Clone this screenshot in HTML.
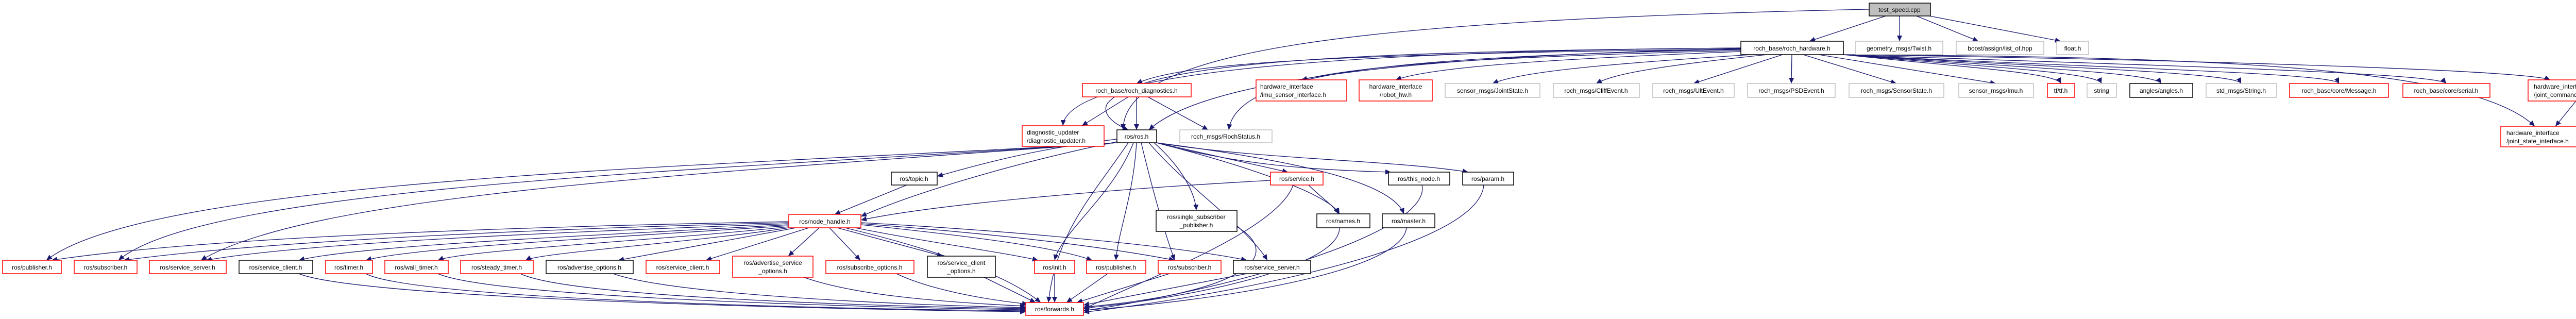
<!DOCTYPE html>
<html><head><meta charset="utf-8"><style>
html,body{margin:0;padding:0;background:#fff;}
svg{display:block;}
text{font-family:"Liberation Sans",sans-serif;font-size:12px;fill:#000;text-anchor:middle;}
.e{fill:none;stroke:#191970;stroke-width:1.3;marker-end:url(#a);}
.r{fill:#fff;stroke:#ff0000;stroke-width:1.5;}
.k{fill:#fff;stroke:#000;stroke-width:1.5;}
.g{fill:#fff;stroke:#bfbfbf;stroke-width:1.5;}
</style></head><body>
<svg width="5113" height="619" viewBox="0 0 5113 619" xmlns="http://www.w3.org/2000/svg">
<defs><marker id="a" markerUnits="userSpaceOnUse" markerWidth="12" markerHeight="10" refX="11" refY="5" orient="auto"><path d="M0,0 L11,5 L0,10 Z" fill="#191970"/></marker></defs>
<g>
<path class="e" d="M3660,31 L3512,80"/>
<path class="e" d="M3687,31 L3687,80"/>
<path class="e" d="M3720,31 L3840,80"/>
<path class="e" d="M3745,31 L4000,80"/>
<path class="e" d="M3628,18 C2600,40 2180,100 2180,252"/>
<path class="e" d="M3379,95 C2600,105 2300,120 2206,162"/>
<path class="e" d="M3379,98 C2900,110 2650,125 2526,155"/>
<path class="e" d="M3379,100 C3000,115 2780,130 2709,155"/>
<path class="e" d="M3400,106 C3100,125 2950,140 2897,162"/>
<path class="e" d="M3430,106 C3200,130 3130,145 3098,162"/>
<path class="e" d="M3460,106 L3287,162"/>
<path class="e" d="M3478,106 L3477,162"/>
<path class="e" d="M3500,106 L3681,162"/>
<path class="e" d="M3530,106 L3874,162"/>
<path class="e" d="M3578,106 C3800,130 3990,140 4000,162"/>
<path class="e" d="M3578,106 C3850,130 4070,140 4079,162"/>
<path class="e" d="M3578,106 C3900,130 4180,140 4195,162"/>
<path class="e" d="M3578,106 C3950,130 4340,140 4350,162"/>
<path class="e" d="M3578,106 C4000,130 4530,140 4540,162"/>
<path class="e" d="M3578,106 C4100,125 4730,140 4748,162"/>
<path class="e" d="M3578,106 C4200,115 4900,135 4950,155"/>
<path class="e" d="M3578,106 C4300,110 4800,130 4920,245"/>
<path class="e" d="M3379,93 C2500,100 2070,150 2063,244"/>
<path class="e" d="M3379,93 C2600,100 2220,120 2150,200 C2140,215 2150,235 2190,252"/>
<path class="e" d="M3379,96 C2700,110 2400,140 2385,252"/>
<path class="e" d="M3379,94 C2700,110 2330,160 2230,252"/>
<path class="e" d="M2190,188 L2100,244"/>
<path class="e" d="M2206,188 L2206,252"/>
<path class="e" d="M2228,188 L2345,252"/>
<path class="e" d="M5000,196 L4960,245"/>
<path class="e" d="M2168,270 C2000,290 1900,320 1819,342"/>
<path class="e" d="M2168,275 C1950,320 1760,380 1671,420"/>
<path class="e" d="M2245,277 L2500,334"/>
<path class="e" d="M2245,277 C2400,320 2550,330 2700,334"/>
<path class="e" d="M2245,277 C2450,310 2700,310 2850,334"/>
<path class="e" d="M2240,277 C2300,330 2320,380 2322,408"/>
<path class="e" d="M2245,277 C2450,330 2580,380 2600,415"/>
<path class="e" d="M2245,277 C2500,310 2700,350 2725,415"/>
<path class="e" d="M2168,277 C1500,320 300,340 90,505"/>
<path class="e" d="M2168,277 C1400,330 400,360 230,505"/>
<path class="e" d="M2168,277 C1300,340 600,380 390,505"/>
<path class="e" d="M2200,277 C2160,380 2060,450 2047,505"/>
<path class="e" d="M2206,277 C2200,380 2170,450 2166,505"/>
<path class="e" d="M2215,277 C2240,380 2260,450 2280,505"/>
<path class="e" d="M2230,277 C2300,360 2420,440 2460,505"/>
<path class="e" d="M2190,277 C2120,380 2050,450 2035,587"/>
<path class="e" d="M1760,359 L1620,416"/>
<path class="e" d="M2466,350 C2100,370 1800,400 1671,427"/>
<path class="e" d="M2540,359 C2560,380 2590,400 2598,415"/>
<path class="e" d="M2510,359 C2480,450 2200,550 2103,600"/>
<path class="e" d="M2760,359 C2780,450 2400,560 2103,603"/>
<path class="e" d="M2880,359 C2870,480 2400,570 2103,606"/>
<path class="e" d="M2600,442 C2600,520 2300,580 2103,598"/>
<path class="e" d="M2730,442 C2720,530 2350,585 2103,602"/>
<path class="e" d="M2401,440 C2500,500 2400,570 2103,596"/>
<path class="e" d="M1531,430 C1000,440 400,460 100,505"/>
<path class="e" d="M1531,432 C1000,445 500,470 240,505"/>
<path class="e" d="M1531,434 C1100,450 600,470 400,505"/>
<path class="e" d="M1531,436 C1200,455 700,475 580,505"/>
<path class="e" d="M1531,438 C1200,460 800,480 710,505"/>
<path class="e" d="M1531,440 C1300,465 900,485 850,505"/>
<path class="e" d="M1531,442 C1350,470 1050,490 1020,505"/>
<path class="e" d="M1545,442 L1200,505"/>
<path class="e" d="M1570,442 L1370,505"/>
<path class="e" d="M1590,442 L1530,497"/>
<path class="e" d="M1610,442 L1670,505"/>
<path class="e" d="M1625,442 L1830,497"/>
<path class="e" d="M1660,442 C1800,470 1950,490 2015,505"/>
<path class="e" d="M1671,436 C1900,460 2050,480 2120,505"/>
<path class="e" d="M1671,434 C1950,455 2150,480 2280,505"/>
<path class="e" d="M1671,432 C2000,450 2300,480 2420,505"/>
<path class="e" d="M1640,442 C1800,480 1950,530 2020,587"/>
<path class="e" d="M580,531 C700,580 1600,600 1991,605"/>
<path class="e" d="M710,531 C800,580 1600,600 1991,603"/>
<path class="e" d="M850,531 C950,575 1600,595 1991,601"/>
<path class="e" d="M1010,531 C1100,575 1650,593 1991,599"/>
<path class="e" d="M1190,531 C1300,570 1700,590 1991,597"/>
<path class="e" d="M1560,538 C1650,570 1800,585 1991,594"/>
<path class="e" d="M1740,531 C1800,560 1900,580 1995,590"/>
<path class="e" d="M1910,538 L2010,587"/>
<path class="e" d="M2047,531 L2047,587"/>
<path class="e" d="M2150,531 L2070,587"/>
<path class="e" d="M2270,531 L2090,587"/>
<path class="e" d="M2420,531 L2103,592"/>
</g>
<rect x="3628" y="6" width="119" height="25" fill="#bfbfbf" stroke="#000" stroke-width="1.5"/><text x="3687" y="23">test_speed.cpp</text>
<rect class="k" x="3379" y="80" width="199" height="26"/><text x="3478" y="98">roch_base/roch_hardware.h</text>
<rect class="g" x="3602" y="80" width="169" height="26"/><text x="3686" y="98">geometry_msgs/Twist.h</text>
<rect class="g" x="3797" y="80" width="170" height="26"/><text x="3882" y="98">boost/assign/list_of.hpp</text>
<rect class="g" x="3992" y="80" width="62" height="26"/><text x="4023" y="98">float.h</text>
<rect class="r" x="2101" y="162" width="211" height="26"/><text x="2206" y="180">roch_base/roch_diagnostics.h</text>
<rect class="r" x="2438" y="155" width="176" height="41"/><text x="2446" y="172" style="text-anchor:start">hardware_interface</text><text x="2446" y="188" style="text-anchor:start">/imu_sensor_interface.h</text>
<rect class="r" x="2638" y="155" width="142" height="41"/><text x="2709" y="172">hardware_interface</text><text x="2709" y="188">/robot_hw.h</text>
<rect class="g" x="2805" y="162" width="184" height="27"/><text x="2897" y="180">sensor_msgs/JointState.h</text>
<rect class="g" x="3015" y="162" width="167" height="27"/><text x="3098" y="180">roch_msgs/CliffEvent.h</text>
<rect class="g" x="3208" y="162" width="158" height="27"/><text x="3287" y="180">roch_msgs/UltEvent.h</text>
<rect class="g" x="3392" y="162" width="170" height="27"/><text x="3477" y="180">roch_msgs/PSDEvent.h</text>
<rect class="g" x="3589" y="162" width="184" height="27"/><text x="3681" y="180">roch_msgs/SensorState.h</text>
<rect class="g" x="3802" y="162" width="145" height="27"/><text x="3874" y="180">sensor_msgs/Imu.h</text>
<rect class="r" x="3974" y="162" width="53" height="27"/><text x="4000" y="180">tf/tf.h</text>
<rect class="g" x="4051" y="162" width="57" height="27"/><text x="4079" y="180">string</text>
<rect class="k" x="4134" y="162" width="122" height="27"/><text x="4195" y="180">angles/angles.h</text>
<rect class="g" x="4282" y="162" width="137" height="27"/><text x="4350" y="180">std_msgs/String.h</text>
<rect class="r" x="4444" y="162" width="192" height="27"/><text x="4540" y="180">roch_base/core/Message.h</text>
<rect class="r" x="4664" y="162" width="169" height="27"/><text x="4748" y="180">roch_base/core/serial.h</text>
<rect class="r" x="4907" y="155" width="201" height="41"/><text x="4918" y="172" style="text-anchor:start">hardware_interface</text><text x="4918" y="188" style="text-anchor:start">/joint_command_interface.h</text>
<rect class="r" x="4854" y="245" width="168" height="40"/><text x="4865" y="262" style="text-anchor:start">hardware_interface</text><text x="4865" y="278" style="text-anchor:start">/joint_state_interface.h</text>
<rect class="r" x="1984" y="244" width="159" height="40"/><text x="1993" y="261" style="text-anchor:start">diagnostic_updater</text><text x="1993" y="277" style="text-anchor:start">/diagnostic_updater.h</text>
<rect class="k" x="2168" y="252" width="77" height="25"/><text x="2206" y="269">ros/ros.h</text>
<rect class="g" x="2290" y="252" width="179" height="25"/><text x="2379" y="269">roch_msgs/RochStatus.h</text>
<rect class="k" x="1730" y="334" width="89" height="25"/><text x="1774" y="351">ros/topic.h</text>
<rect class="r" x="2466" y="334" width="102" height="25"/><text x="2517" y="351">ros/service.h</text>
<rect class="k" x="2695" y="334" width="119" height="25"/><text x="2754" y="351">ros/this_node.h</text>
<rect class="k" x="2839" y="334" width="99" height="25"/><text x="2888" y="351">ros/param.h</text>
<rect class="r" x="1531" y="416" width="140" height="26"/><text x="1601" y="434">ros/node_handle.h</text>
<rect class="k" x="2244" y="408" width="157" height="41"/><text x="2322" y="425">ros/single_subscriber</text><text x="2322" y="441">_publisher.h</text>
<rect class="k" x="2556" y="415" width="103" height="27"/><text x="2607" y="433">ros/names.h</text>
<rect class="k" x="2683" y="415" width="102" height="27"/><text x="2734" y="433">ros/master.h</text>
<rect class="r" x="5" y="505" width="114" height="26"/><text x="62" y="523">ros/publisher.h</text>
<rect class="r" x="144" y="505" width="122" height="26"/><text x="205" y="523">ros/subscriber.h</text>
<rect class="r" x="290" y="505" width="149" height="26"/><text x="364" y="523">ros/service_server.h</text>
<rect class="k" x="464" y="505" width="143" height="26"/><text x="535" y="523">ros/service_client.h</text>
<rect class="r" x="632" y="505" width="91" height="26"/><text x="677" y="523">ros/timer.h</text>
<rect class="r" x="747" y="505" width="123" height="26"/><text x="808" y="523">ros/wall_timer.h</text>
<rect class="r" x="894" y="505" width="141" height="26"/><text x="964" y="523">ros/steady_timer.h</text>
<rect class="k" x="1060" y="505" width="169" height="26"/><text x="1144" y="523">ros/advertise_options.h</text>
<rect class="r" x="1254" y="505" width="143" height="26"/><text x="1325" y="523">ros/service_client.h</text>
<rect class="r" x="1422" y="497" width="156" height="41"/><text x="1500" y="514">ros/advertise_service</text><text x="1500" y="530">_options.h</text>
<rect class="r" x="1603" y="505" width="171" height="26"/><text x="1688" y="523">ros/subscribe_options.h</text>
<rect class="k" x="1800" y="497" width="132" height="41"/><text x="1866" y="514">ros/service_client</text><text x="1866" y="530">_options.h</text>
<rect class="r" x="2008" y="505" width="78" height="26"/><text x="2047" y="523">ros/init.h</text>
<rect class="r" x="2109" y="505" width="115" height="26"/><text x="2166" y="523">ros/publisher.h</text>
<rect class="r" x="2248" y="505" width="122" height="26"/><text x="2309" y="523">ros/subscriber.h</text>
<rect class="k" x="2394" y="505" width="150" height="26"/><text x="2469" y="523">ros/service_server.h</text>
<rect class="r" x="1991" y="587" width="112" height="25"/><text x="2047" y="604">ros/forwards.h</text>
</svg>
</body></html>
